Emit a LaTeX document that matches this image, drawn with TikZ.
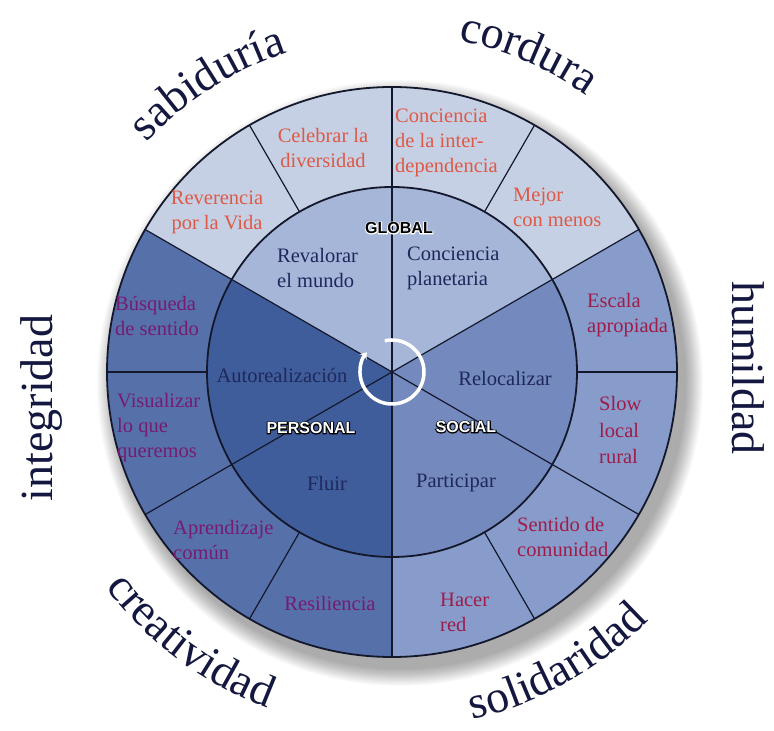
\documentclass[tikz,border=0pt]{standalone}
\usepackage{fontspec}
\setmainfont{Liberation Serif}
\newfontfamily\catsans{Liberation Sans Bold}
\newfontfamily\catsanshalo[FakeBold=12]{Liberation Sans Bold}
\usetikzlibrary{decorations.text,arrows.meta}
\definecolor{gOut}{RGB}{198,208,229}
\definecolor{gIn}{RGB}{166,182,216}
\definecolor{sOut}{RGB}{136,156,203}
\definecolor{sIn}{RGB}{116,137,190}
\definecolor{pOut}{RGB}{86,112,170}
\definecolor{pIn}{RGB}{64,93,155}
\definecolor{coralc}{RGB}{222,90,70}
\definecolor{purplec}{RGB}{118,28,112}
\definecolor{crimsonc}{RGB}{158,28,74}
\definecolor{navyc}{RGB}{30,40,92}
\definecolor{wordc}{RGB}{20,24,64}
\definecolor{linec}{RGB}{20,24,44}
\newcommand\wordfont{\fontsize{46}{46}\selectfont\color{wordc}}
\newcommand\catlab[5]{%
  \node[inner sep=0pt,font=\catsanshalo\fontsize{16}{16}\selectfont,text=#5] at (#2) {#3};
  \node[catstyle,text=#4] (#1) at (#2) {#3};
}
\begin{document}
\begin{tikzpicture}[x=1pt,y=1pt,
  ringlab/.style={font=\fontsize{20.5}{25}\selectfont, align=left, inner sep=0pt},
  innlab/.style={font=\fontsize{20.5}{25}\selectfont, align=left, inner sep=0pt, text=navyc},
  catstyle/.style={font=\catsans\fontsize{16}{16}\selectfont, inner sep=0pt},
  wordlab/.style={font=\wordfont, inner sep=0pt},
  ringline/.style={draw=linec, line width=1.2pt},
  rimline/.style={draw=linec, line width=1.8pt}]
\useasboundingbox (0,0) rectangle (774,731);
\fill[white] (0,0) rectangle (774,731);
\coordinate (C) at (392,359);
% soft shadow
\foreach \i in {0,...,17}
  \fill[black,opacity=0.02] ([shift={(8,-11)}]C) circle ({303-\i});
\begin{scope}[shift={(C)}]
  \fill[gOut] (0,0) -- (30:285) arc[start angle=30,end angle=150,radius=285] -- cycle;
  \fill[pOut] (0,0) -- (150:285) arc[start angle=150,end angle=270,radius=285] -- cycle;
  \fill[sOut] (0,0) -- (270:285) arc[start angle=270,end angle=390,radius=285] -- cycle;
  \fill[gIn] (0,0) -- (30:185) arc[start angle=30,end angle=150,radius=185] -- cycle;
  \fill[pIn] (0,0) -- (150:185) arc[start angle=150,end angle=270,radius=185] -- cycle;
  \fill[sIn] (0,0) -- (270:185) arc[start angle=270,end angle=390,radius=185] -- cycle;
  \foreach \a in {0,30,...,330} \draw[ringline] (\a:185) -- (\a:285);
  \foreach \a in {30,90,150} \draw[ringline] (\a:185) -- (\a+180:185);
  \draw[rimline] (0,0) circle (185);
  \draw[rimline] (0,0) circle (285);
\end{scope}
% centre arrow
\draw[white, line width=3.5pt, -{Stealth[length=6pt,width=9pt]}]
  ([shift={(103:32)}]C) arc[start angle=103,end angle=-218,radius=32];
% outer ring labels
\node[ringlab,text=coralc,align=center] (celebrar) at (323,583) {Celebrar la\\diversidad};
\node[ringlab,text=coralc,align=center] (reverencia) at (217,519) {Reverencia\\por la Vida};
\node[ringlab,text=coralc,anchor=west] (interdep) at (395,588) {Conciencia\\de la inter-\\dependencia};
\node[ringlab,text=coralc,anchor=west] (mejor) at (513,524) {Mejor\\con menos};
\node[ringlab,text=crimsonc,anchor=west] (escala) at (587,416) {Escala\\apropiada};
\node[ringlab,text=crimsonc,anchor=west,font=\fontsize{20.5}{26.5}\selectfont] (slow) at (599,301) {Slow\\local\\rural};
\node[ringlab,text=crimsonc,anchor=west] (sentido) at (517,194) {Sentido de\\comunidad};
\node[ringlab,text=crimsonc,anchor=west] (hacer) at (440,119) {Hacer\\red};
\node[ringlab,text=purplec] (resiliencia) at (330,128) {Resiliencia};
\node[ringlab,text=purplec,anchor=west] (aprendizaje) at (173,191) {Aprendizaje\\común};
\node[ringlab,text=purplec,anchor=west] (visualizar) at (117,303) {Visualizar\\lo que\\queremos};
\node[ringlab,text=purplec,anchor=west] (busqueda) at (115,415) {Búsqueda\\de sentido};
% inner labels
\node[innlab,anchor=west] (revalorar) at (277,463) {Revalorar\\el mundo};
\node[innlab,anchor=west] (planetaria) at (407,463) {Conciencia\\planetaria};
\node[innlab] (relocalizar) at (505,353) {Relocalizar};
\node[innlab] (participar) at (456,248) {Participar};
\node[innlab] (fluir) at (327,248) {Fluir};
\node[innlab] (autoreal) at (282,356) {Autorealización};
% category labels
\catlab{global}{399,503}{GLOBAL}{black}{white}
\catlab{personal}{311,303}{PERSONAL}{white}{black}
\catlab{social}{466,304}{SOCIAL}{white}{black}
% outer words
\path[decorate,decoration={text along path,text align=center,text={|\wordfont|sabiduría}}]
  ([shift={(150:336)}]C) arc[start angle=150,end angle=95,radius=336];
\path[decorate,decoration={text along path,text align=center,text={|\wordfont|cordura}}]
  ([shift={(96.8:338)}]C) arc[start angle=96.8,end angle=36.8,radius=338];
\path[decorate,decoration={text along path,text align=center,text={|\wordfont|creatividad}}]
  ([shift={(203.3:358)}]C) arc[start angle=203.3,end angle=263.3,radius=358];
\path[decorate,decoration={text along path,text align=center,text={|\wordfont|solidaridad}}]
  ([shift={(269.5:357)}]C) arc[start angle=269.5,end angle=329.5,radius=357];
\node[wordlab,rotate=90] (integridad) at (42,323) {integridad};
\node[wordlab,rotate=-90] (humildad) at (748,363) {humildad};
\end{tikzpicture}
\end{document}
